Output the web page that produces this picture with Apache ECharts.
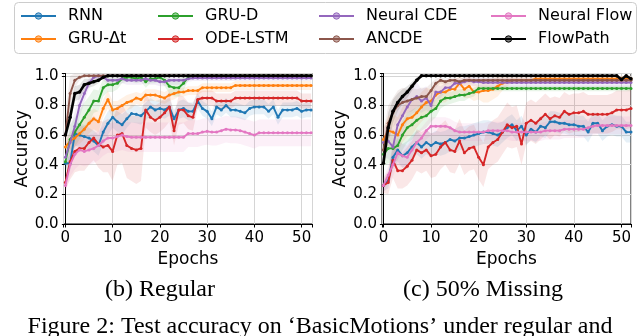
<!DOCTYPE html>
<html><head><meta charset="utf-8">
<script src="https://cdn.jsdelivr.net/npm/echarts@6/dist/echarts.min.js"></script>
<style>html,body{margin:0;padding:0;background:#fff}#c{width:640px;height:336px}</style>
</head><body><div id="c"></div>
<script>
const epochs = [0,1,2,3,4,5,6,7,8,9,10,11,12,13,14,15,16,17,18,19,20,21,22,23,24,25,26,27,28,29,30,31,32,33,34,35,36,37,38,39,40,41,42,43,44,45,46,47,48,49,50,51,52];
const methods = ['RNN','GRU-Δt','GRU-D','ODE-LSTM','Neural CDE','ANCDE','Neural Flow','FlowPath'];
const colors = ['#1f77b4','#ff7f0e','#2ca02c','#d62728','#9467bd','#8c564b','#e377c2','#000000'];
const yTicks = [0,0.2,0.4,0.6,0.8,1.0];
const xTicks = [0,10,20,30,40,50];
const panelTitles = ['(b) Regular','(c) 50% Missing'];
const figCaption = 'Figure 2: Test accuracy on \u2018BasicMotions\u2019 under regular and';

// ---- (b) Regular : mean accuracy per epoch ----
const regRNN = [0.41,0.41,0.61,0.60,0.59,0.58,0.56,0.53,0.62,0.68,
0.72,0.69,0.67,0.71,0.745,0.74,0.73,0.76,0.79,0.77,
0.78,0.77,0.79,0.71,0.77,0.78,0.76,0.76,0.83,0.78,
0.76,0.71,0.79,0.77,0.80,0.77,0.77,0.76,0.75,0.78,
0.79,0.79,0.79,0.76,0.79,0.72,0.77,0.77,0.77,0.78,
0.76,0.77,0.77];
const regGRUdt = [0.52,0.56,0.58,0.61,0.64,0.68,0.71,0.69,0.78,0.84,
0.77,0.78,0.80,0.82,0.83,0.85,0.84,0.87,0.87,0.87,
0.86,0.85,0.87,0.88,0.89,0.89,0.90,0.90,0.90,0.92,
0.92,0.92,0.92,0.92,0.92,0.92,0.935,0.935,0.935,0.935,
0.935,0.935,0.935,0.935,0.935,0.935,0.935,0.935,0.935,0.935,
0.935,0.935,0.935];
const regGRUD = [0.42,0.57,0.62,0.67,0.72,0.77,0.83,0.83,0.92,0.94,
0.94,0.95,0.98,0.99,0.99,0.98,0.99,0.96,0.98,0.98,
0.99,0.97,0.93,0.92,0.92,0.95,0.99,1.0,1.0,1.0,
1.0,1.0,1.0,1.0,1.0,1.0,1.0,1.0,1.0,1.0,
1.0,1.0,1.0,1.0,1.0,1.0,1.0,1.0,1.0,1.0,
1.0,1.0,1.0];
const regODE = [0.28,0.42,0.49,0.51,0.51,0.55,0.58,0.54,0.52,0.53,
0.49,0.60,0.61,0.53,0.51,0.50,0.51,0.77,0.72,0.70,
0.72,0.75,0.79,0.63,0.77,0.77,0.73,0.72,0.84,0.85,
0.85,0.85,0.83,0.83,0.83,0.83,0.85,0.85,0.85,0.85,
0.85,0.85,0.85,0.85,0.85,0.85,0.85,0.85,0.85,0.85,
0.83,0.83,0.83];
const regNCDE = [0.45,0.55,0.66,0.80,0.88,0.95,0.99,1.0,0.99,0.97,
0.97,0.97,0.98,0.97,0.97,0.97,0.97,0.98,0.97,0.97,
0.96,0.96,0.97,0.97,0.97,0.97,0.98,0.985,0.985,0.985,
0.985,0.985,0.985,0.985,0.985,0.985,0.985,0.985,0.985,0.985,
0.985,0.985,0.985,0.985,0.985,0.985,0.985,0.985,0.985,0.985,
0.985,0.985,0.985];
const regANCDE = [0.60,0.88,0.97,0.99,1.0,1.0,1.0,1.0,1.0,1.0,
1.0,1.0,1.0,1.0,1.0,1.0,1.0,1.0,1.0,1.0,
1.0,1.0,1.0,1.0,1.0,1.0,1.0,1.0,1.0,1.0,
1.0,1.0,1.0,1.0,1.0,1.0,1.0,1.0,1.0,1.0,
1.0,1.0,1.0,1.0,1.0,1.0,1.0,1.0,1.0,1.0,
1.0,1.0,1.0];
const regNFlow = [0.26,0.40,0.47,0.50,0.49,0.50,0.51,0.53,0.56,0.58,
0.58,0.59,0.60,0.59,0.585,0.585,0.585,0.585,0.585,0.585,
0.585,0.585,0.585,0.585,0.585,0.585,0.61,0.61,0.61,0.62,
0.625,0.62,0.62,0.63,0.64,0.635,0.635,0.63,0.62,0.61,
0.60,0.615,0.615,0.615,0.615,0.615,0.615,0.615,0.615,0.615,
0.615,0.615,0.615];
const regFlowPath = [0.60,0.72,0.88,0.89,0.94,0.95,0.96,0.97,0.99,1.0,
1.0,1.0,1.0,1.0,1.0,1.0,1.0,1.0,1.0,1.0,
1.0,1.0,1.0,1.0,1.0,1.0,1.0,1.0,1.0,1.0,
1.0,1.0,1.0,1.0,1.0,1.0,1.0,1.0,1.0,1.0,
1.0,1.0,1.0,1.0,1.0,1.0,1.0,1.0,1.0,1.0,
1.0,1.0,1.0];

// ---- (b) Regular : std band half-width per epoch ----
const regRNNsd = [0.03,0.05,0.08,0.08,0.08,0.07,0.07,0.07,0.08,0.08,
0.07,0.07,0.07,0.06,0.06,0.06,0.06,0.06,0.06,0.06,
0.06,0.06,0.06,0.06,0.06,0.06,0.06,0.06,0.05,0.05,
0.05,0.05,0.05,0.05,0.05,0.05,0.05,0.05,0.05,0.05,
0.05,0.05,0.05,0.05,0.05,0.05,0.05,0.05,0.05,0.05,
0.05,0.05,0.05];
const regGRUdtsd = [0.05,0.06,0.06,0.07,0.07,0.07,0.07,0.07,0.06,0.06,
0.06,0.05,0.05,0.05,0.05,0.04,0.04,0.04,0.04,0.04,
0.04,0.04,0.04,0.04,0.03,0.03,0.03,0.03,0.03,0.03,
0.03,0.03,0.03,0.03,0.03,0.03,0.03,0.03,0.03,0.03,
0.03,0.03,0.03,0.03,0.03,0.03,0.03,0.03,0.03,0.03,
0.03,0.03,0.03];
const regGRUDsd = [0.08,0.10,0.10,0.10,0.10,0.09,0.08,0.07,0.06,0.05,
0.05,0.04,0.03,0.03,0.03,0.03,0.03,0.04,0.03,0.03,
0.03,0.04,0.05,0.06,0.06,0.05,0.02,0.01,0.01,0.01,
0.01,0.01,0.01,0.01,0.01,0.01,0.01,0.01,0.01,0.01,
0.01,0.01,0.01,0.01,0.01,0.01,0.01,0.01,0.01,0.01,
0.01,0.01,0.01];
const regODEsd = [0.05,0.12,0.14,0.15,0.15,0.15,0.15,0.16,0.17,0.18,
0.20,0.20,0.20,0.22,0.22,0.23,0.22,0.12,0.10,0.10,
0.10,0.10,0.10,0.10,0.10,0.09,0.09,0.09,0.06,0.05,
0.05,0.05,0.05,0.05,0.05,0.05,0.05,0.05,0.05,0.05,
0.05,0.05,0.05,0.05,0.05,0.05,0.05,0.05,0.05,0.05,
0.05,0.05,0.05];
const regNCDEsd = [0.08,0.10,0.10,0.08,0.06,0.03,0.02,0.02,0.02,0.03,
0.03,0.03,0.03,0.03,0.03,0.03,0.03,0.03,0.03,0.03,
0.03,0.03,0.03,0.03,0.03,0.03,0.02,0.02,0.02,0.02,
0.02,0.02,0.02,0.02,0.02,0.02,0.02,0.02,0.02,0.02,
0.02,0.02,0.02,0.02,0.02,0.02,0.02,0.02,0.02,0.02,
0.02,0.02,0.02];
const regANCDEsd = [0.15,0.12,0.05,0.02,0.01,0.01,0.01,0.01,0.01,0.01,
0.01,0.01,0.01,0.01,0.01,0.01,0.01,0.01,0.01,0.01,
0.01,0.01,0.01,0.01,0.01,0.01,0.01,0.01,0.01,0.01,
0.01,0.01,0.01,0.01,0.01,0.01,0.01,0.01,0.01,0.01,
0.01,0.01,0.01,0.01,0.01,0.01,0.01,0.01,0.01,0.01,
0.01,0.01,0.01];
const regNFlowsd = [0.05,0.08,0.10,0.10,0.10,0.10,0.10,0.10,0.10,0.10,
0.10,0.10,0.10,0.10,0.10,0.10,0.10,0.10,0.10,0.10,
0.10,0.10,0.10,0.10,0.10,0.10,0.09,0.09,0.09,0.09,
0.09,0.09,0.09,0.09,0.09,0.09,0.09,0.09,0.09,0.09,
0.09,0.09,0.09,0.09,0.09,0.09,0.09,0.09,0.09,0.09,
0.09,0.09,0.09];
const regFlowPathsd = [0.04,0.06,0.05,0.05,0.04,0.03,0.03,0.02,0.01,0,
0,0,0,0,0,0,0,0,0,0,0,0,0,0,0,0,0,0,0,0,
0,0,0,0,0,0,0,0,0,0,0,0,0,0,0,0,0,0,0,0,
0,0,0];

// ---- (c) 50% Missing : mean accuracy per epoch ----
const missRNN = [0.26,0.29,0.45,0.50,0.46,0.48,0.52,0.55,0.52,0.55,
0.53,0.55,0.54,0.55,0.57,0.56,0.58,0.58,0.59,0.60,
0.61,0.62,0.62,0.61,0.60,0.62,0.65,0.67,0.63,0.66,
0.60,0.64,0.62,0.66,0.65,0.69,0.69,0.68,0.68,0.67,
0.67,0.66,0.66,0.62,0.68,0.68,0.63,0.66,0.67,0.66,
0.66,0.62,0.62];
const missGRUdt = [0.57,0.63,0.62,0.60,0.67,0.71,0.72,0.75,0.79,0.82,
0.83,0.87,0.89,0.89,0.91,0.91,0.95,0.91,0.93,0.89,
0.89,0.90,0.90,0.91,0.93,0.95,0.96,0.97,0.97,0.97,
0.97,0.97,0.98,0.98,0.98,0.98,0.98,0.98,0.98,0.98,
0.98,0.98,0.98,0.98,0.98,0.98,0.98,0.98,0.98,0.98,
0.98,0.98,0.98];
const missGRUD = [0.47,0.51,0.51,0.53,0.60,0.65,0.67,0.70,0.72,0.73,
0.76,0.78,0.83,0.85,0.85,0.86,0.87,0.87,0.88,0.89,
0.915,0.915,0.915,0.915,0.915,0.915,0.915,0.915,0.915,0.915,
0.915,0.915,0.915,0.915,0.915,0.915,0.915,0.915,0.915,0.915,
0.915,0.915,0.915,0.915,0.915,0.915,0.915,0.915,0.915,0.915,
0.915,0.915,0.915];
const missODE = [0.26,0.28,0.43,0.36,0.36,0.39,0.43,0.50,0.48,0.50,
0.46,0.47,0.52,0.55,0.50,0.49,0.56,0.48,0.51,0.52,
0.45,0.40,0.52,0.55,0.57,0.62,0.67,0.65,0.66,0.54,
0.68,0.70,0.68,0.71,0.74,0.71,0.73,0.72,0.76,0.74,
0.75,0.75,0.76,0.74,0.74,0.74,0.74,0.74,0.75,0.77,
0.77,0.77,0.78];
const missNCDE = [0.55,0.56,0.52,0.67,0.73,0.79,0.84,0.86,0.83,0.85,
0.80,0.89,0.89,0.92,0.92,0.95,0.95,0.96,0.97,0.96,
0.96,0.955,0.955,0.955,0.955,0.955,0.955,0.955,0.955,0.955,
0.955,0.955,0.955,0.955,0.955,0.955,0.955,0.955,0.955,0.955,
0.955,0.955,0.955,0.955,0.955,0.955,0.955,0.955,0.955,0.955,
0.955,0.955,0.955];
const missANCDE = [0.50,0.68,0.75,0.80,0.82,0.83,0.84,0.85,0.86,0.86,
0.90,0.95,0.97,0.96,0.97,0.97,0.96,0.97,0.97,0.97,
0.97,0.97,0.97,0.97,0.97,0.97,0.97,0.97,0.97,0.97,
0.97,0.97,0.97,0.97,0.97,0.97,0.97,0.97,0.97,0.97,
0.97,0.97,0.97,0.97,0.97,0.97,0.97,0.97,0.97,0.97,
0.97,0.97,0.97];
const missNFlow = [0.26,0.33,0.40,0.48,0.46,0.45,0.50,0.55,0.58,0.63,
0.66,0.66,0.66,0.66,0.65,0.63,0.62,0.62,0.62,0.62,
0.62,0.62,0.63,0.63,0.63,0.63,0.63,0.62,0.62,0.62,
0.62,0.62,0.62,0.62,0.63,0.63,0.63,0.63,0.64,0.64,
0.64,0.64,0.64,0.65,0.66,0.665,0.665,0.665,0.665,0.665,
0.665,0.665,0.665];
const missFlowPath = [0.41,0.65,0.76,0.82,0.86,0.89,0.93,0.97,1.0,1.0,
1.0,1.0,1.0,1.0,1.0,1.0,1.0,1.0,1.0,1.0,
1.0,1.0,1.0,1.0,1.0,1.0,1.0,1.0,1.0,1.0,
1.0,1.0,1.0,1.0,1.0,1.0,1.0,1.0,1.0,1.0,
1.0,1.0,1.0,1.0,1.0,1.0,1.0,1.0,1.0,1.0,
0.975,1.0,0.98];

// ---- (c) 50% Missing : std band half-width per epoch ----
const missRNNsd = [0.04,0.05,0.08,0.08,0.08,0.08,0.08,0.08,0.08,0.08,
0.08,0.08,0.08,0.08,0.08,0.08,0.08,0.08,0.08,0.08,
0.08,0.08,0.08,0.08,0.08,0.07,0.07,0.07,0.07,0.07,
0.07,0.07,0.07,0.07,0.07,0.07,0.07,0.07,0.07,0.07,
0.07,0.07,0.07,0.07,0.07,0.07,0.07,0.07,0.07,0.07,
0.07,0.07,0.07];
const missGRUdtsd = [0.08,0.10,0.12,0.12,0.12,0.12,0.12,0.10,0.10,0.10,
0.08,0.08,0.07,0.07,0.06,0.06,0.06,0.06,0.08,0.06,
0.05,0.08,0.08,0.07,0.07,0.05,0.03,0.02,0.02,0.02,
0.02,0.02,0.02,0.02,0.02,0.02,0.02,0.02,0.02,0.02,
0.02,0.02,0.02,0.02,0.02,0.02,0.02,0.02,0.02,0.02,
0.02,0.02,0.02];
const missGRUDsd = [0.08,0.10,0.10,0.10,0.10,0.10,0.10,0.09,0.09,0.08,
0.07,0.06,0.05,0.05,0.04,0.04,0.04,0.04,0.03,0.03,
0.02,0.02,0.02,0.02,0.02,0.02,0.02,0.02,0.02,0.02,
0.02,0.02,0.02,0.02,0.02,0.02,0.02,0.02,0.02,0.02,
0.02,0.02,0.02,0.02,0.02,0.02,0.02,0.02,0.02,0.02,
0.02,0.02,0.02];
const missODEsd = [0.05,0.08,0.12,0.12,0.12,0.13,0.13,0.14,0.14,0.14,
0.15,0.15,0.15,0.15,0.15,0.15,0.15,0.15,0.15,0.15,
0.15,0.15,0.15,0.15,0.15,0.15,0.15,0.14,0.14,0.14,
0.14,0.14,0.14,0.14,0.14,0.14,0.13,0.13,0.13,0.13,
0.13,0.13,0.13,0.13,0.13,0.13,0.13,0.13,0.13,0.13,
0.13,0.13,0.13];
const missNCDEsd = [0.10,0.12,0.12,0.12,0.12,0.10,0.10,0.10,0.08,0.08,
0.06,0.05,0.04,0.03,0.03,0.03,0.03,0.03,0.03,0.03,
0.03,0.03,0.03,0.03,0.03,0.03,0.03,0.03,0.03,0.03,
0.03,0.03,0.03,0.03,0.03,0.03,0.03,0.03,0.03,0.03,
0.03,0.03,0.03,0.03,0.03,0.03,0.03,0.03,0.03,0.03,
0.03,0.03,0.03];
const missANCDEsd = [0.12,0.12,0.10,0.10,0.10,0.08,0.08,0.06,0.06,0.06,
0.05,0.03,0.02,0.02,0.02,0.02,0.02,0.02,0.02,0.02,
0.02,0.02,0.02,0.02,0.02,0.02,0.02,0.02,0.02,0.02,
0.02,0.02,0.02,0.02,0.02,0.02,0.02,0.02,0.02,0.02,
0.02,0.02,0.02,0.02,0.02,0.02,0.02,0.02,0.02,0.02,
0.02,0.02,0.02];
const missNFlowsd = [0.05,0.06,0.08,0.08,0.08,0.08,0.08,0.07,0.07,0.06,
0.06,0.06,0.06,0.06,0.06,0.06,0.06,0.06,0.06,0.06,
0.06,0.06,0.06,0.06,0.06,0.06,0.06,0.06,0.06,0.06,
0.06,0.06,0.06,0.06,0.06,0.06,0.06,0.06,0.06,0.06,
0.06,0.06,0.06,0.06,0.06,0.06,0.06,0.06,0.06,0.06,
0.06,0.06,0.06];
const missFlowPathsd = [0.02,0.10,0.08,0.06,0.05,0.04,0.03,0.02,0,0,
0,0,0,0,0,0,0,0,0,0,0,0,0,0,0,0,0,0,0,0,
0,0,0,0,0,0,0,0,0,0,0,0,0,0,0,0,0,0,0,0,
0,0,0];

const panels = [
  {means:[regRNN,regGRUdt,regGRUD,regODE,regNCDE,regANCDE,regNFlow,regFlowPath],
   sds:[regRNNsd,regGRUdtsd,regGRUDsd,regODEsd,regNCDEsd,regANCDEsd,regNFlowsd,regFlowPathsd]},
  {means:[missRNN,missGRUdt,missGRUD,missODE,missNCDE,missANCDE,missNFlow,missFlowPath],
   sds:[missRNNsd,missGRUdtsd,missGRUDsd,missODEsd,missNCDEsd,missANCDEsd,missNFlowsd,missFlowPathsd]}
];

const FONT = 'DejaVu Sans';
const Y_MAX = 1.0155;
const grids = [
  {left:63.5, top:73.5, width:249, height:150.5, show:true, borderColor:'#000', borderWidth:1, backgroundColor:'transparent'},
  {left:382, top:73.5, width:249, height:150.5, show:true, borderColor:'#000', borderWidth:1, backgroundColor:'transparent'}
];
const xRange = [[-0.4,52.3],[-0.3,52.0]];

const isTick = (v, arr) => arr.some(t => Math.abs(t - v) < 1e-6);
function rgba(hex, a) {
  const n = parseInt(hex.slice(1), 16);
  return 'rgba(' + ((n >> 16) & 255) + ',' + ((n >> 8) & 255) + ',' + (n & 255) + ',' + a + ')';
}
const clampY = v => Math.max(0, Math.min(Y_MAX, v));

const xAxes = [0,1].map(p => ({
  type:'value', gridIndex:p, min:xRange[p][0], max:xRange[p][1],
  name:'Epochs', nameLocation:'middle', nameGap:27,
  nameTextStyle:{fontFamily:FONT, fontSize:17, color:'#000'},
  axisLine:{show:true, onZero:false, lineStyle:{color:'#000', width:1}},
  axisTick:{show:true, length:3.5, lineStyle:{color:'#000'}},
  axisLabel:{fontFamily:FONT, fontSize:15, color:'#000', margin:7,
    formatter: v => isTick(v, xTicks) ? String(Math.round(v)) : ''},
  splitLine:{show:true, lineStyle:{color:'#d5d5d5', width:1}}
}));
const yAxes = [0,1].map(p => ({
  type:'value', gridIndex:p, min:0, max:Y_MAX, interval:0.2,
  name:'Accuracy', nameLocation:'middle', nameGap:31,
  nameTextStyle:{fontFamily:FONT, fontSize:17, color:'#000'},
  axisLine:{show:true, lineStyle:{color:'#000', width:1}},
  axisTick:{show:true, length:3.5, lineStyle:{color:'#000'}},
  axisLabel:{fontFamily:FONT, fontSize:15, color:'#000', margin:5,
    formatter: v => isTick(v, yTicks) ? v.toFixed(1) : ''},
  splitLine:{show:true, lineStyle:{color:'#d5d5d5', width:1}}
}));

const series = [];
panels.forEach((pan, p) => {
  methods.forEach((m, i) => {
    const mean = pan.means[i], sd = pan.sds[i];
    series.push({
      type:'custom', xAxisIndex:p, yAxisIndex:p, silent:true, z:1, clip:true,
      data:[[epochs[0], mean[0]]],
      renderItem: (params, api) => {
        const pts = [];
        for (let k = 0; k < epochs.length; k++) pts.push(api.coord([epochs[k], clampY(mean[k] + sd[k])]));
        for (let k = epochs.length - 1; k >= 0; k--) pts.push(api.coord([epochs[k], clampY(mean[k] - sd[k])]));
        return {type:'polygon', shape:{points:pts}, style:{fill:rgba(colors[i], 0.11), stroke:null}};
      }
    });
  });
  methods.forEach((m, i) => {
    const mean = pan.means[i];
    const isFP = m === 'FlowPath';
    series.push({
      name:m, type:'line', xAxisIndex:p, yAxisIndex:p,
      symbol:'circle', symbolSize: isFP ? 3.5 : 3, showAllSymbol:true,
      lineStyle:{color:colors[i], width: isFP ? 2.6 : 1.9},
      itemStyle:{color:colors[i]},
      z: 3 + i,
      data: epochs.map((e,k) => [e, mean[k]])
    });
  });
});

const legCols = [[0,1],[2,3],[4,5],[6,7]];
const legLeft = [15, 152, 313, 485];
const legends = legCols.map((c, j) => ({
  data: c.map(k => ({name: methods[k], itemStyle:{color: rgba(colors[k], 0.5), borderColor: colors[k], borderWidth: 1}})),
  orient:'vertical', left:legLeft[j], top:3,
  itemWidth:35, itemHeight:8, itemGap:7,
  textStyle:{fontFamily:FONT, fontSize:16, color:'#000', padding:[0,0,0,7], lineHeight:16},
  selectedMode:false
}));

const chart = echarts.init(document.getElementById('c'), null, {renderer:'canvas'});
chart.setOption({
  animation:false,
  backgroundColor:'#fff',
  grid: grids,
  xAxis: xAxes,
  yAxis: yAxes,
  legend: legends,
  series: series,
  graphic: [
    {type:'rect', z:0, shape:{x:14.5, y:2.5, width:622, height:51, r:4},
     style:{fill:'#fff', stroke:'#cccccc', lineWidth:1}},
    {type:'text', z:5, x:160, y:290, style:{text:panelTitles[0], font:'24px "Liberation Serif"', fill:'#000', textAlign:'center', textVerticalAlign:'middle'}},
    {type:'text', z:5, x:483, y:290, style:{text:panelTitles[1], font:'24px "Liberation Serif"', fill:'#000', textAlign:'center', textVerticalAlign:'middle'}},
    {type:'text', z:5, x:320, y:327, style:{text:figCaption, font:'24px "Liberation Serif"', fill:'#000', textAlign:'center', textVerticalAlign:'middle'}}
  ]
});
</script>
</body></html>
